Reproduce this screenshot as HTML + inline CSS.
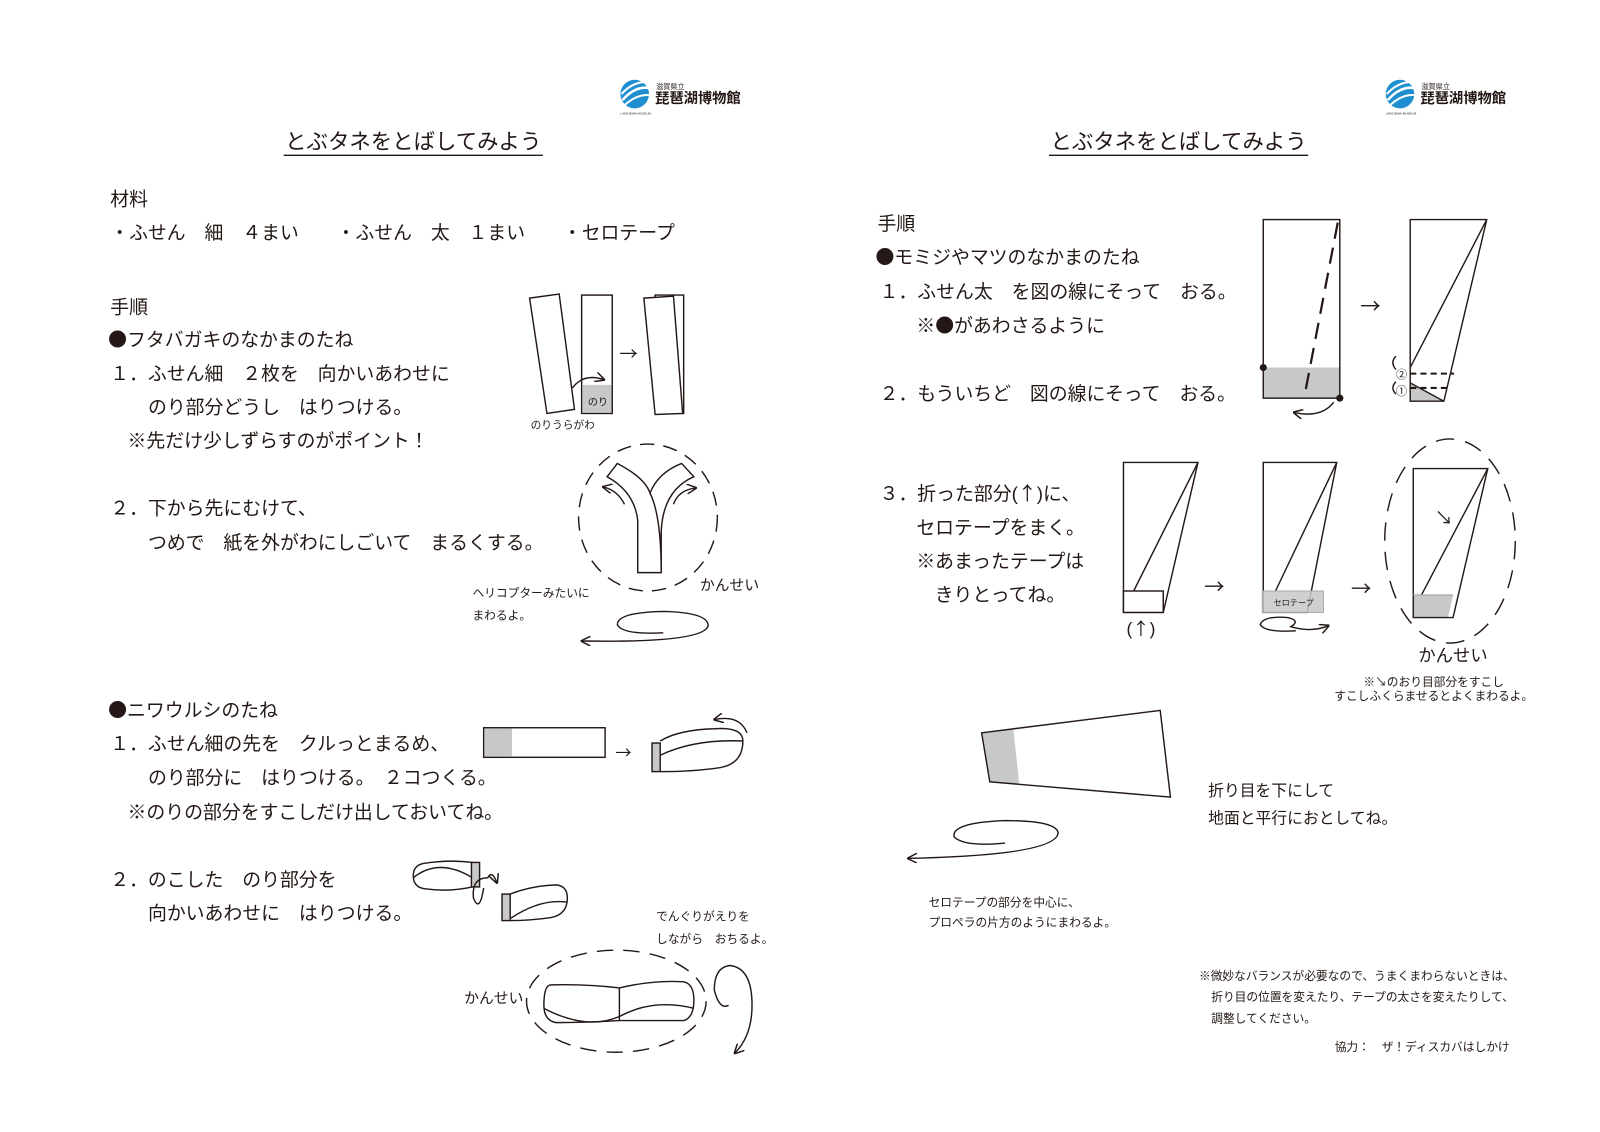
<!DOCTYPE html>
<html><head><meta charset="utf-8"><style>
html,body{margin:0;padding:0;background:#fff;}
svg{display:block;}
text{font-family:"Liberation Sans","Noto Sans CJK JP",sans-serif;fill:#231815;}
.j{font-family:"Noto Sans CJK JP",sans-serif;}
</style></head><body>
<svg width="1600" height="1132" viewBox="0 0 1568 1109" xmlns="http://www.w3.org/2000/svg">
<defs>
<marker id="ah" viewBox="0 0 10 10" refX="9" refY="5" markerWidth="7" markerHeight="7" orient="auto-start-reverse"><path d="M0,0 L10,5 L0,10" fill="none" stroke="#231815" stroke-width="1.5"/></marker>
</defs>
<g fill="none" stroke="#231815" stroke-width="1.4">

<!-- ===== LEFT PAGE ===== -->
<g stroke="none">
<circle cx="622" cy="92" r="14" fill="#1f8fd0"/>
<path d="M610,98 Q622,84 636,86" stroke="#fff" stroke-width="2.5" fill="none"/>
<path d="M609,92 Q620,80 634,80" stroke="#fff" stroke-width="2" fill="none"/>
<path d="M612,103 Q624,92 636,93" stroke="#fff" stroke-width="2" fill="none"/>
</g>
<text x="643" y="87" font-size="7" stroke="none">滋賀県立</text>
<text x="642" y="101" font-size="14" font-weight="bold" stroke="none">琵琶湖博物館</text>
<text x="608" y="112" font-size="3" stroke="none">LAKE BIWA MUSEUM</text>

<text x="405" y="146" font-size="21" text-anchor="middle" stroke="none">とぶタネをとばしてみよう</text>
<line x1="278" y1="152" x2="532" y2="152" stroke-width="1.3"/>

<g stroke="none" font-size="18.5">
<text x="108" y="201">材料</text>
<text x="108" y="234">・ふせん　細　４まい　　・ふせん　太　１まい　　・セロテープ</text>
<text x="108" y="307">手順</text>
<text x="106" y="339"><tspan class="j">●</tspan>フタバガキのなかまのたね</text>
<text x="108" y="372">１．ふせん細　２枚を　向かいあわせに</text>
<text x="145" y="405">のり部分どうし　はりつける。</text>
<text x="125" y="438">※先だけ少しずらすのがポイント！</text>
<text x="108" y="504">２．下から先にむけて、</text>
<text x="145" y="538">つめで　紙を外がわにしごいて　まるくする。</text>
<text x="106" y="702"><tspan class="j">●</tspan>ニワウルシのたね</text>
<text x="108" y="735">１．ふせん細の先を　クルっとまるめ、</text>
<text x="145" y="768">のり部分に　はりつける。　２コつくる。</text>
<text x="125" y="802">※のりの部分をすこしだけ出しておいてね。</text>
<text x="108" y="868">２．のこした　のり部分を</text>
<text x="145" y="901">向かいあわせに　はりつける。</text>
</g>

<polygon points="519,292 548,288 563,401 536,405"/>
<rect x="570" y="289" width="30" height="116" fill="#fff"/>
<rect x="570.7" y="377" width="28.6" height="27.3" fill="#c8c8c8" stroke="none"/>
<text x="576" y="397" font-size="10" stroke="none">のり</text>
<path d="M561,380 Q572,365 592,372" marker-end="url(#ah)"/>
<text x="607" y="353" font-size="18" class="j" stroke="none">→</text>
<polygon points="642,289 670,289 670,405 659,405" fill="#fff"/>
<polygon points="631,292 660,290 669,405 642,406" fill="#fff"/>
<text x="520" y="420" font-size="10.5" stroke="none">のりうらがわ</text>

<ellipse cx="635" cy="507" rx="68" ry="72" stroke-dasharray="14,9"/>
<path d="M625,561 L625,510 Q622,482 595,467 L605,454 Q632,468 637,483 Q645,463 668,454 L680,467 Q650,480 648,520 L648,561 Z" fill="#fff"/>
<path d="M637,483 Q648,505 648,561"/>
<path d="M612,494 Q605,480 591,477" marker-end="url(#ah)"/>
<path d="M660,494 Q665,480 682,478" marker-end="url(#ah)"/>
<text x="686" y="578" font-size="14.5" stroke="none">かんせい</text>
<text x="463" y="585" font-size="11.5" stroke="none">ヘリコプターみたいに</text>
<text x="463" y="607" font-size="11.5" stroke="none">まわるよ。</text>
<path d="M650,620 Q610,622 605,612 Q605,600 650,599 Q694,600 694,613 Q690,630 570,628" marker-end="url(#ah)"/>

<rect x="474" y="713" width="119" height="29" fill="#fff"/>
<rect x="474.7" y="713.7" width="27" height="27.6" fill="#c8c8c8" stroke="none"/>
<text x="603" y="743" font-size="16" class="j" stroke="none">→</text>
<path d="M647,726 Q665,715 700,714 Q728,712 728,726 Q728,748 706,752 Q680,756 647,756"/>
<path d="M647,740 Q680,724 728,726"/>
<rect x="639" y="728" width="8" height="28" fill="#c8c8c8"/>
<path d="M732,718 Q725,700 700,705" marker-end="url(#ah)"/>

<path d="M463,845 Q440,842 415,846 Q405,848 405,858 Q405,870 418,871 Q440,874 463,869"/>
<path d="M405,860 Q430,840 463,860"/>
<rect x="462" y="845" width="8" height="24" fill="#c8c8c8"/>
<path d="M474,870 Q470,895 464,880 Q462,860 478,860 Q482,852 487,865" marker-end="url(#ah)"/>
<path d="M500,876 Q520,868 545,867 Q556,868 556,880 Q556,896 540,899 Q520,902 500,902"/>
<path d="M500,900 Q530,880 556,884"/>
<rect x="492" y="876" width="8" height="26" fill="#c8c8c8"/>

<ellipse cx="604" cy="981" rx="88" ry="50" stroke-dasharray="16,10"/>
<path d="M540,965 Q575,964 607,968 Q640,960 670,962 Q680,964 680,980 Q680,997 670,1000 Q640,1000 607,1000 Q575,1002 545,1002 Q533,1000 533,985 Q533,965 540,965 Z" fill="#fff"/>
<path d="M533,988 Q575,1010 607,996 Q640,978 680,988"/>
<line x1="607" y1="968" x2="607" y2="1000"/>
<text x="455" y="983" font-size="14.5" stroke="none">かんせい</text>
<text x="643" y="902" font-size="11.5" stroke="none">でんぐりがえりを</text>
<text x="643" y="924" font-size="11.5" stroke="none">しながら　おちるよ。</text>
<path d="M714,985 Q705,990 700,970 Q700,948 715,946 Q737,948 737,985 Q737,1015 720,1032" marker-end="url(#ah)"/>

<!-- ===== RIGHT PAGE ===== -->
<g stroke="none">
<circle cx="1372" cy="92" r="14" fill="#1f8fd0"/>
<path d="M1360,98 Q1372,84 1386,86" stroke="#fff" stroke-width="2.5" fill="none"/>
<path d="M1359,92 Q1370,80 1384,80" stroke="#fff" stroke-width="2" fill="none"/>
<path d="M1362,103 Q1374,92 1386,93" stroke="#fff" stroke-width="2" fill="none"/>
</g>
<text x="1393" y="87" font-size="7" stroke="none">滋賀県立</text>
<text x="1392" y="101" font-size="14" font-weight="bold" stroke="none">琵琶湖博物館</text>
<text x="1358" y="112" font-size="3" stroke="none">LAKE BIWA MUSEUM</text>

<text x="1155" y="146" font-size="21" text-anchor="middle" stroke="none">とぶタネをとばしてみよう</text>
<line x1="1028" y1="152" x2="1282" y2="152" stroke-width="1.3"/>

<g stroke="none" font-size="18.5">
<text x="860" y="225">手順</text>
<text x="858" y="258"><tspan class="j">●</tspan>モミジやマツのなかまのたね</text>
<text x="862" y="292">１．ふせん太　を図の線にそって　おる。</text>
<text x="898" y="325">※<tspan class="j">●</tspan>があわさるように</text>
<text x="862" y="392">２．もういちど　図の線にそって　おる。</text>
<text x="862" y="490">３．折った部分(<tspan class="j">↑</tspan>)に、</text>
<text x="898" y="523">セロテープをまく。</text>
<text x="898" y="556">※あまったテープは</text>
<text x="916" y="589">きりとってね。</text>
</g>

<rect x="1238.7" y="360" width="74.6" height="30" fill="#c8c8c8" stroke="none"/>
<rect x="1238" y="215" width="75" height="175"/>
<line x1="1311" y1="218" x2="1278" y2="390" stroke-width="2.2" stroke-dasharray="16,9"/>
<circle cx="1238" cy="360" r="3.5" fill="#231815" stroke="none"/>
<circle cx="1313" cy="390" r="3.5" fill="#231815" stroke="none"/>
<path d="M1307,394 Q1295,410 1268,404" marker-end="url(#ah)"/>
<text x="1333" y="307" font-size="20" class="j" stroke="none">→</text>
<polygon points="1382,375 1382,393 1415,393" fill="#c8c8c8" stroke="none"/>
<path d="M1382,215 L1457,215 L1415,393 L1382,393 Z"/>
<line x1="1457" y1="215" x2="1382" y2="360"/>
<line x1="1382" y1="375" x2="1415" y2="393"/>
<line x1="1382" y1="366" x2="1425" y2="366" stroke-width="2" stroke-dasharray="6,4"/>
<line x1="1382" y1="380" x2="1420" y2="380" stroke-width="2" stroke-dasharray="6,4"/>
<text x="1368" y="371" font-size="11" class="j" stroke="none">②</text>
<text x="1368" y="387" font-size="11" class="j" stroke="none">①</text>
<path d="M1368,362 Q1362,355 1368,349"/>
<path d="M1368,386 Q1362,380 1368,374"/>

<path d="M1101,453 L1174,453 L1140,600 L1101,600 Z"/>
<line x1="1174" y1="453" x2="1111" y2="579"/>
<rect x="1101" y="579" width="39" height="21" fill="#fff"/>
<text x="1104" y="622" font-size="17" stroke="none">(<tspan class="j">↑</tspan>)</text>
<text x="1180" y="582" font-size="20" class="j" stroke="none">→</text>

<path d="M1238,453 L1310,453 L1281,600 L1238,600 Z"/>
<line x1="1310" y1="453" x2="1250" y2="579"/>
<rect x="1237" y="579" width="60" height="21" fill="#c8c8c8" fill-opacity="0.85" stroke="#aaa" stroke-width="1"/>
<text x="1248" y="593" font-size="8" stroke="none">セロテープ</text>
<path d="M1270,618 Q1240,620 1235,612 Q1238,603 1262,605 Q1275,608 1265,614 Q1285,620 1302,613" marker-end="url(#ah)"/>
<text x="1324" y="584" font-size="20" class="j" stroke="none">→</text>

<ellipse cx="1421" cy="530" rx="64" ry="100" stroke-dasharray="18,11"/>
<polygon points="1385,583 1424,583 1419,605 1385,605" fill="#c8c8c8" stroke="none"/>
<path d="M1385,459 L1458,459 L1424,605 L1385,605 Z"/>
<line x1="1458" y1="459" x2="1393" y2="583"/>
<line x1="1385" y1="583" x2="1424" y2="583" stroke="#aaa"/>
<text x="1406" y="514" font-size="18" class="j" stroke="none">↘</text>
<text x="1390" y="648" font-size="17" stroke="none">かんせい</text>
<text x="1405" y="672" font-size="11.5" text-anchor="middle" stroke="none">※<tspan class="j">↘</tspan>のおり目部分をすこし</text>
<text x="1405" y="686" font-size="11.5" text-anchor="middle" stroke="none">すこしふくらませるとよくまわるよ。</text>

<polygon points="962,718 993,714 999,769 970,766" fill="#c8c8c8" stroke="none"/>
<polygon points="962,718 1137,696 1147,781 970,766"/>
<text x="1184" y="780" font-size="15.5" stroke="none">折り目を下にして</text>
<text x="1184" y="807" font-size="15.5" stroke="none">地面と平行におとしてね。</text>
<path d="M985,826 Q945,830 935,820 Q932,806 985,804 Q1035,804 1037,816 Q1035,838 890,841" marker-end="url(#ah)"/>
<text x="910" y="888" font-size="11.5" stroke="none">セロテープの部分を中心に、</text>
<text x="910" y="908" font-size="11.5" stroke="none">プロペラの片方のようにまわるよ。</text>

<text x="1175" y="960" font-size="11.5" stroke="none">※微妙なバランスが必要なので、うまくまわらないときは、</text>
<text x="1187" y="981" font-size="11.5" stroke="none">折り目の位置を変えたり、テープの太さを変えたりして、</text>
<text x="1187" y="1002" font-size="11.5" stroke="none">調整してください。</text>
<text x="1308" y="1030" font-size="11.5" stroke="none">協力：　ザ！ディスカバはしかけ</text>
</g>
</svg>
</body></html>
